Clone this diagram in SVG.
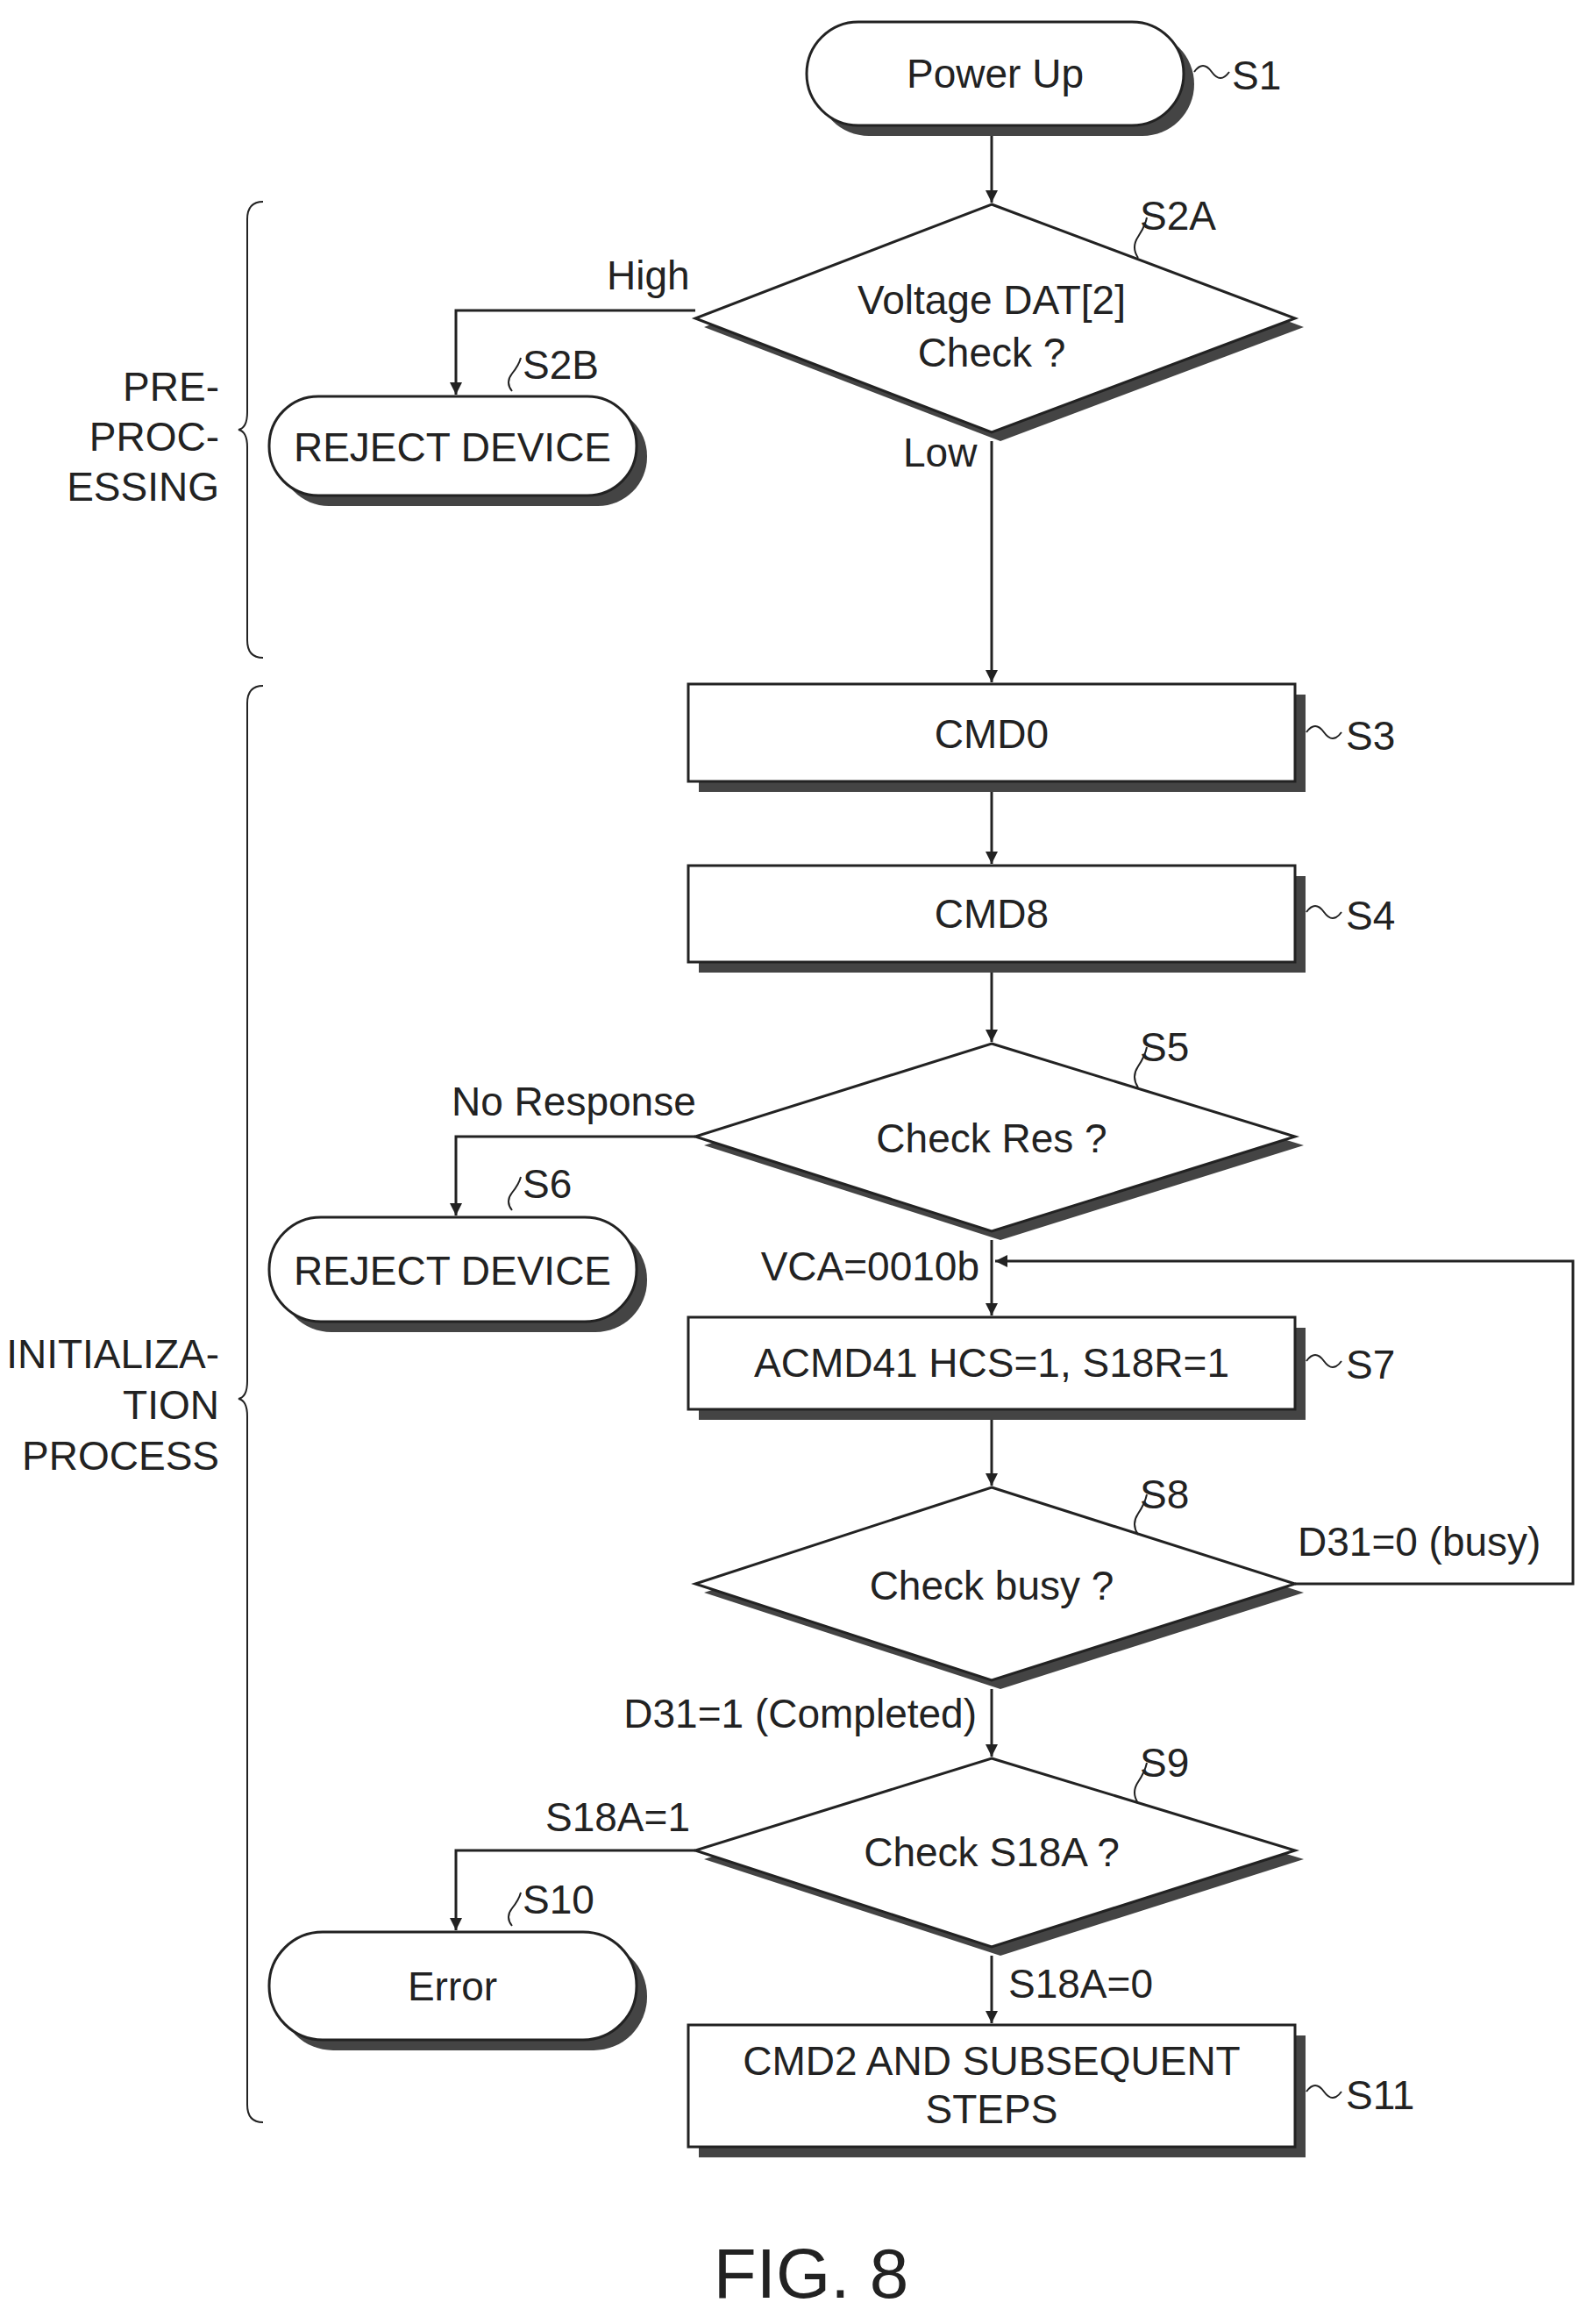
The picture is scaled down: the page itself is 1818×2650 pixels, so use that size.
<svg xmlns="http://www.w3.org/2000/svg" width="1818" height="2650" viewBox="0 0 1818 2650">
<defs>
<marker id="ah" viewBox="0 0 10 10" refX="10" refY="5" markerWidth="14" markerHeight="14" markerUnits="userSpaceOnUse" orient="auto"><path d="M0,0 L10,5 L0,10 z" fill="#222"/></marker>
</defs>
<style>
.t{font-family:"Liberation Sans Narrow","Liberation Sans",Arial,sans-serif;font-size:46px;fill:#222}
.m{text-anchor:middle}
.e{text-anchor:end}
.sh{fill:#444}
.bx{fill:#fff;stroke:#222;stroke-width:3}
.ln{fill:none;stroke:#222;stroke-width:3}
.ld{fill:none;stroke:#222;stroke-width:2}
</style>
<rect width="1818" height="2650" fill="#fff"/>
<g id="S1"><rect class="sh" x="932" y="37" width="430" height="118" rx="59"/><rect class="bx" x="920" y="25" width="430" height="118" rx="59"/><text class="t m" x="1135" y="100">Power Up</text><path class="ld" d="M1362,82 q10,-14 20,0 t20,0"/><text class="t" x="1405" y="102">S1</text></g>
<g id="S2A"><polygon class="sh" points="1141,243 1487,373 1141,503 803,373"/><polygon class="bx" points="1131,233 1477,363 1131,493 793,363"/><text class="t m" x="1131" y="358">Voltage DAT[2]</text><text class="t m" x="1131" y="418">Check ?</text><path class="ld" d="M1298,294 q-8,-12 0,-24 t10,-22"/><text class="t" x="1300" y="262">S2A</text></g>
<g id="S2B"><rect class="sh" x="319" y="464" width="419" height="113" rx="56"/><rect class="bx" x="307" y="452" width="419" height="113" rx="56"/><text class="t m" x="516" y="526">REJECT DEVICE</text><path class="ld" d="M584,446 q-8,-10 0,-20 t10,-18"/><text class="t" x="596" y="432">S2B</text></g>
<g id="S3"><rect class="sh" x="797" y="792" width="692" height="111"/><rect class="bx" x="785" y="780" width="692" height="111"/><text class="t m" x="1131" y="853">CMD0</text><path class="ld" d="M1490,835 q10,-14 20,0 t20,0"/><text class="t" x="1535" y="855">S3</text></g>
<g id="S4"><rect class="sh" x="797" y="999" width="692" height="110"/><rect class="bx" x="785" y="987" width="692" height="110"/><text class="t m" x="1131" y="1058">CMD8</text><path class="ld" d="M1490,1040 q10,-14 20,0 t20,0"/><text class="t" x="1535" y="1060">S4</text></g>
<g id="S5"><polygon class="sh" points="1141,1200 1487,1306 1141,1414 803,1306"/><polygon class="bx" points="1131,1190 1477,1296 1131,1404 793,1296"/><text class="t m" x="1131" y="1314">Check Res ?</text><path class="ld" d="M1298,1240 q-8,-12 0,-24 t10,-22"/><text class="t" x="1300" y="1210">S5</text></g>
<g id="S6"><rect class="sh" x="319" y="1400" width="419" height="119" rx="59"/><rect class="bx" x="307" y="1388" width="419" height="119" rx="59"/><text class="t m" x="516" y="1465">REJECT DEVICE</text><path class="ld" d="M584,1380 q-8,-10 0,-20 t10,-18"/><text class="t" x="596" y="1366">S6</text></g>
<g id="S7"><rect class="sh" x="797" y="1514" width="692" height="105"/><rect class="bx" x="785" y="1502" width="692" height="105"/><text class="t m" x="1131" y="1570">ACMD41 HCS=1, S18R=1</text><path class="ld" d="M1490,1552 q10,-14 20,0 t20,0"/><text class="t" x="1535" y="1572">S7</text></g>
<g id="S8"><polygon class="sh" points="1141,1706 1487,1816 1141,1926 803,1816"/><polygon class="bx" points="1131,1696 1477,1806 1131,1916 793,1806"/><text class="t m" x="1131" y="1824">Check busy ?</text><path class="ld" d="M1298,1750 q-8,-12 0,-24 t10,-22"/><text class="t" x="1300" y="1720">S8</text></g>
<g id="S9"><polygon class="sh" points="2141,0 0,0" /><polygon class="sh" points="1141,2015 1487,2120 1141,2230 803,2120"/><polygon class="bx" points="1131,2005 1477,2110 1131,2220 793,2110"/><text class="t m" x="1131" y="2128">Check S18A ?</text><path class="ld" d="M1298,2056 q-8,-12 0,-24 t10,-22"/><text class="t" x="1300" y="2026">S9</text></g>
<g id="S10"><rect class="sh" x="319" y="2215" width="419" height="123" rx="61"/><rect class="bx" x="307" y="2203" width="419" height="123" rx="61"/><text class="t m" x="516" y="2281">Error</text><path class="ld" d="M584,2196 q-8,-10 0,-20 t10,-18"/><text class="t" x="596" y="2182">S10</text></g>
<g id="S11"><rect class="sh" x="797" y="2321" width="692" height="139"/><rect class="bx" x="785" y="2309" width="692" height="139"/><text class="t m" x="1131" y="2366">CMD2 AND SUBSEQUENT</text><text class="t m" x="1131" y="2421">STEPS</text><path class="ld" d="M1490,2385 q10,-14 20,0 t20,0"/><text class="t" x="1535" y="2405">S11</text></g>
<g id="connectors">
<path class="ln" d="M1131,155 V231" marker-end="url(#ah)"/>
<path class="ln" d="M793,354 H520 V450" marker-end="url(#ah)"/>
<path class="ln" d="M1131,503 V778" marker-end="url(#ah)"/>
<path class="ln" d="M1131,903 V985" marker-end="url(#ah)"/>
<path class="ln" d="M1131,1109 V1188" marker-end="url(#ah)"/>
<path class="ln" d="M793,1296 H520 V1386" marker-end="url(#ah)"/>
<path class="ln" d="M1131,1414 V1500" marker-end="url(#ah)"/>
<path class="ln" d="M1477,1806 H1794 V1438 H1135" marker-end="url(#ah)"/>
<path class="ln" d="M1131,1619 V1694" marker-end="url(#ah)"/>
<path class="ln" d="M1131,1926 V2003" marker-end="url(#ah)"/>
<path class="ln" d="M793,2110 H520 V2201" marker-end="url(#ah)"/>
<path class="ln" d="M1131,2230 V2307" marker-end="url(#ah)"/>
</g>
<g id="labels">
<text class="t" x="692" y="330">High</text>
<text class="t" x="1030" y="532">Low</text>
<text class="t" x="515" y="1272">No Response</text>
<text class="t e" x="1117" y="1460">VCA=0010b</text>
<text class="t" x="1480" y="1774">D31=0 (busy)</text>
<text class="t e" x="1114" y="1970">D31=1 (Completed)</text>
<text class="t" x="622" y="2088">S18A=1</text>
<text class="t" x="1150" y="2278">S18A=0</text>
</g>
<g id="braces">
<path class="ld" d="M300,230 q-18,0 -18,20 V470 q0,18 -10,20 q10,2 10,20 V730 q0,20 18,20"/>
<text class="t e" x="250" y="457">PRE-</text>
<text class="t e" x="250" y="514">PROC-</text>
<text class="t e" x="250" y="571">ESSING</text>
<path class="ld" d="M300,782 q-18,0 -18,20 V1575 q0,18 -10,20 q10,2 10,20 V2400 q0,20 18,20"/>
<text class="t e" x="250" y="1560">INITIALIZA-</text>
<text class="t e" x="250" y="1618">TION</text>
<text class="t e" x="250" y="1676">PROCESS</text>
</g>
<text x="925" y="2620" font-family="Liberation Sans,Arial,sans-serif" font-size="80" fill="#222" text-anchor="middle">FIG. 8</text>
</svg>
